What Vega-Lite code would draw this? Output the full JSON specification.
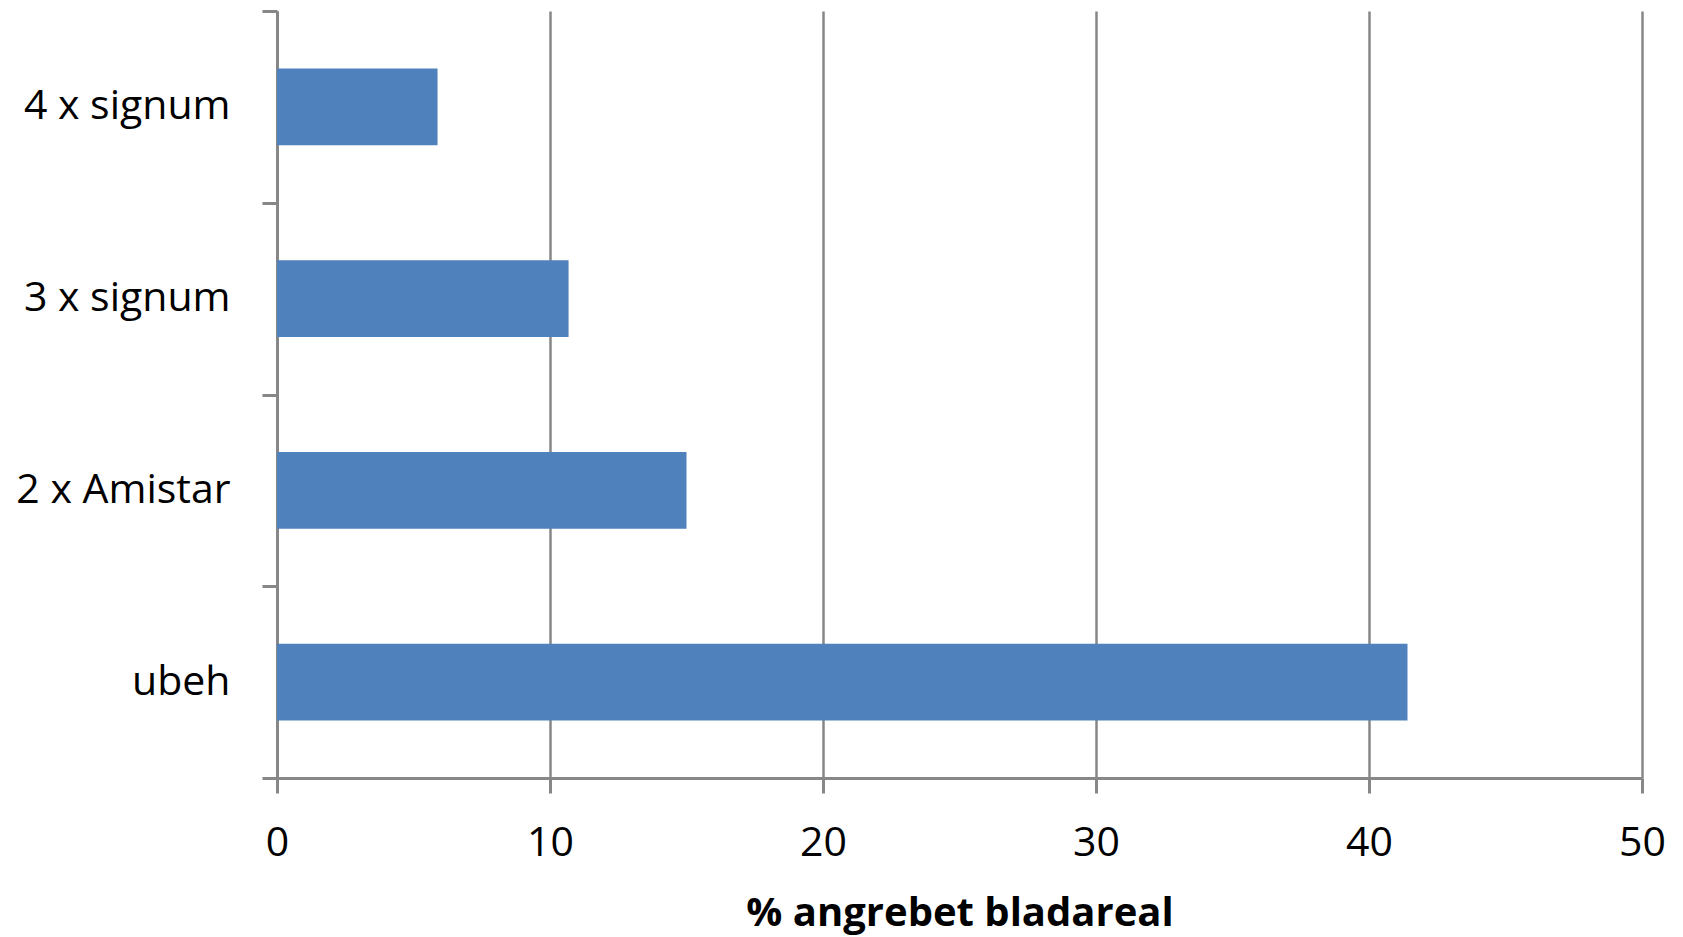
{
  "$schema": "https://vega.github.io/schema/vega-lite/v6.json",
  "width": 1365,
  "height": 767,
  "autosize": {"type": "none"},
  "padding": {"left": 277, "top": 11, "right": 41, "bottom": 159},
  "background": "white",
  "data": {
    "values": [
      {"behandling": "4 x signum", "pct": 5.88},
      {"behandling": "3 x signum", "pct": 10.68},
      {"behandling": "2 x Amistar", "pct": 15.0},
      {"behandling": "ubeh", "pct": 41.41}
    ]
  },
  "config": {
    "view": {"stroke": null},
    "font": "Open Sans"
  },
  "mark": {"type": "bar", "color": "#4F81BD", "height": {"band": 0.4}},
  "encoding": {
    "y": {
      "field": "behandling",
      "type": "nominal",
      "sort": ["4 x signum", "3 x signum", "2 x Amistar", "ubeh"],
      "scale": {"paddingInner": 0, "paddingOuter": 0},
      "axis": {
        "title": null,
        "tickBand": "extent",
        "domainColor": "#878787",
        "domainWidth": 3,
        "tickColor": "#878787",
        "tickWidth": 3,
        "tickSize": 15,
        "labelPadding": 32,
        "labelLimit": 0,
        "labelFont": "Open Sans",
        "labelFontSize": 41,
        "labelColor": "#000000",
        "grid": false
      }
    },
    "x": {
      "field": "pct",
      "type": "quantitative",
      "scale": {"domain": [0, 50], "nice": false},
      "axis": {
        "values": [0, 10, 20, 30, 40, 50],
        "title": "% angrebet bladareal",
        "titleFont": "Open Sans",
        "titleFontSize": 40,
        "titleFontWeight": "bold",
        "titleColor": "#000000",
        "titleBaseline": "alphabetic",
        "titleY": 147,
        "domainColor": "#878787",
        "domainWidth": 3,
        "tickColor": "#878787",
        "tickWidth": 3,
        "tickSize": 15,
        "labelPadding": 30,
        "labelFlush": false,
        "labelFont": "Open Sans",
        "labelFontSize": 41,
        "labelColor": "#000000",
        "grid": true,
        "gridColor": "#878787",
        "gridWidth": 2.5
      }
    }
  }
}
